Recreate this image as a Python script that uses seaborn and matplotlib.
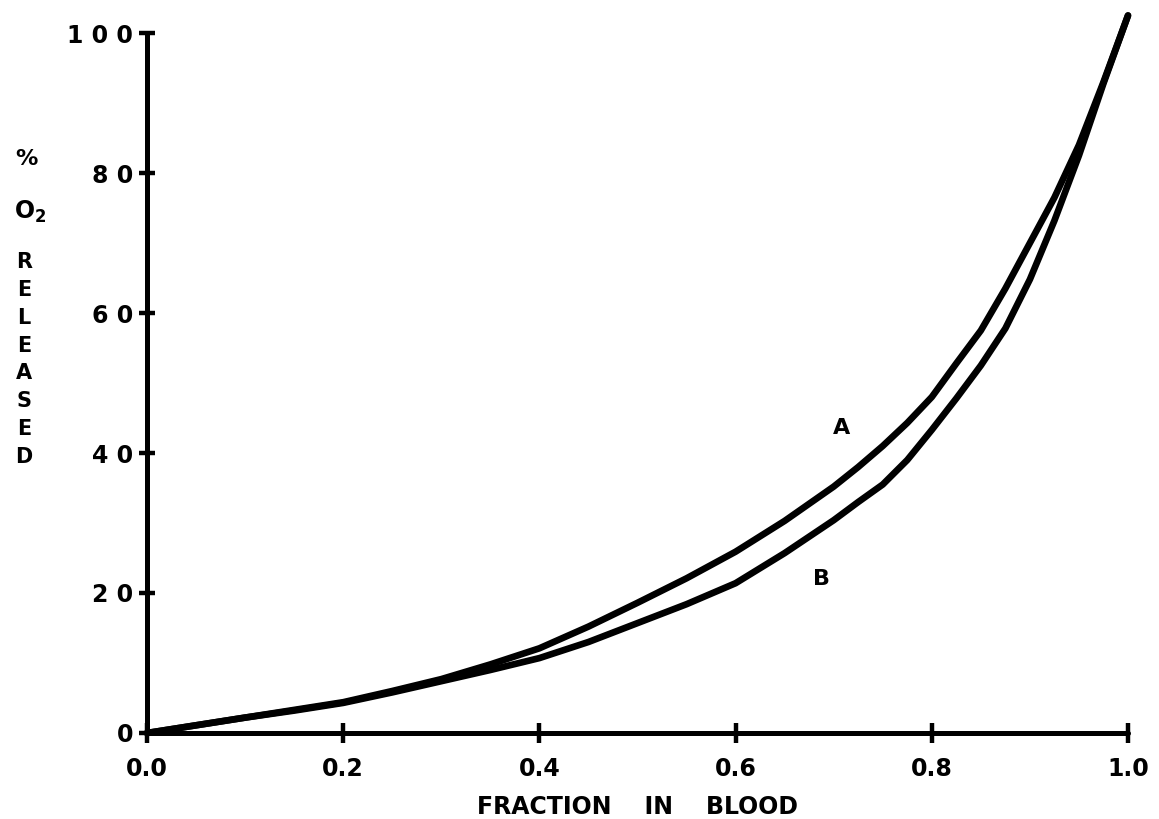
import matplotlib
matplotlib.use("Agg")
import matplotlib.pyplot as plt
import seaborn as sns
import pandas as pd

# ---- data ----
fraction = [0.0, 0.05, 0.1, 0.15, 0.2, 0.25, 0.3, 0.35, 0.4, 0.45, 0.5, 0.55, 0.6,
            0.65, 0.7, 0.725, 0.75, 0.775, 0.8, 0.825, 0.85, 0.875, 0.9, 0.925,
            0.95, 0.975, 1.0]
curve_a = [0.0, 1.1, 2.2, 3.3, 4.4, 6.0, 7.7, 9.8, 12.1, 15.2, 18.6, 22.1, 25.9,
           30.3, 35.2, 38.0, 41.0, 44.3, 48.0, 52.8, 57.5, 63.5, 70.0, 76.5,
           84.0, 93.0, 102.5]
curve_b = [0.0, 1.1, 2.2, 3.2, 4.3, 5.8, 7.4, 9.0, 10.7, 13.0, 15.7, 18.4, 21.4,
           25.7, 30.4, 33.0, 35.5, 39.0, 43.3, 47.8, 52.5, 57.8, 64.8, 73.2,
           82.5, 92.8, 102.5]

x_ticks = [0.0, 0.2, 0.4, 0.6, 0.8, 1.0]
x_tick_labels = ["0.0", "0.2", "0.4", "0.6", "0.8", "1.0"]
y_ticks = [0, 20, 40, 60, 80, 100]
y_tick_labels = ["0", "2 0", "4 0", "6 0", "8 0", "1 0 0"]
curve_labels = ["A", "B"]
label_pos = [(0.708, 43.6), (0.688, 22.0)]
x_title = "FRACTION    IN    BLOOD"
y_title_letters = ["R", "E", "L", "E", "A", "S", "E", "D"]

df = pd.concat([
    pd.DataFrame({"fraction": fraction, "released": curve_a, "curve": "A"}),
    pd.DataFrame({"fraction": fraction, "released": curve_b, "curve": "B"}),
])

sns.set_style("ticks")
plt.rcParams["font.family"] = ["DejaVu Sans"]
plt.rcParams["font.weight"] = "bold"
for k in ["text.color", "axes.labelcolor", "xtick.color", "ytick.color", "axes.edgecolor"]:
    plt.rcParams[k] = "black"

W, H = 1159, 819
fig = plt.figure(figsize=(W / 100, H / 100), dpi=100)
ax_left = 147 / W
ax_bottom = (H - 733) / H
ax_width = (1128 - 147) / W
ax_height = (733 - 12) / H
ax = fig.add_axes([ax_left, ax_bottom, ax_width, ax_height])

sns.lineplot(data=df, x="fraction", y="released", hue="curve",
             palette={"A": "black", "B": "black"}, linewidth=4.8,
             legend=False, ax=ax, clip_on=False, sort=False)
for line in ax.lines:
    line.set_solid_capstyle("round")
    line.set_solid_joinstyle("round")

ax.set_xlim(0, 1.0)
ax.set_ylim(0, 103)

for side in ["top", "right"]:
    ax.spines[side].set_visible(False)
for side in ["left", "bottom"]:
    ax.spines[side].set_linewidth(3.6)
    ax.spines[side].set_color("black")
    ax.spines[side].set_capstyle("round")
ax.spines["left"].set_bounds(0, 100)

ax.set_xticks(x_ticks)
ax.set_xticklabels(x_tick_labels, fontsize=17, fontweight="bold")
ax.set_yticks(y_ticks)
ax.set_yticklabels(y_tick_labels, fontsize=17, fontweight="bold")
ax.tick_params(axis="x", direction="inout", length=14, width=3.2, pad=10,
               colors="black", bottom=True)
ax.tick_params(axis="y", direction="inout", length=12, width=3.2, pad=4,
               colors="black", left=True)

ax.set_xlabel(x_title, fontsize=17, fontweight="bold", labelpad=10, color="black")
ax.set_ylabel("")

for (lx, ly), lab in zip(label_pos, curve_labels):
    ax.text(lx, ly, lab, fontsize=16, fontweight="bold", ha="center",
            va="center", color="black")

# stacked vertical y title
def ftext(px, py, s, size=15, **kw):
    fig.text(px / W, 1 - py / H, s, fontsize=size, fontweight="bold",
             ha="center", va="center", color="black", **kw)

ftext(26, 159, "%", size=16)
ftext(30, 212, r"O$_{\mathbf{2}}$", size=17)
y0 = 262
step = (457 - 262) / (len(y_title_letters) - 1)
for i, ch in enumerate(y_title_letters):
    ftext(24, y0 + i * step, ch, size=15)

fig.savefig("out.png", dpi=100, facecolor="white")
